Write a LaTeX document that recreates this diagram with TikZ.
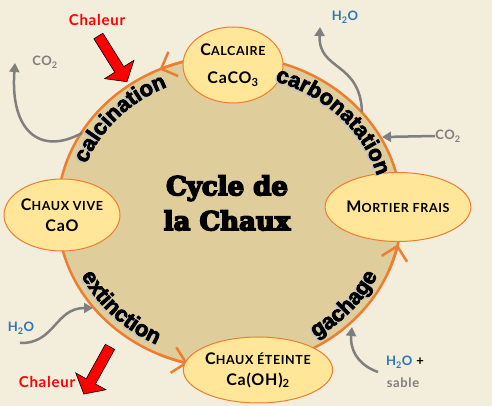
\documentclass[tikz,border=0pt]{standalone}
\usepackage{fontspec}
\usepackage{tikz}
\usetikzlibrary{shapes.geometric,shapes.arrows,arrows.meta,decorations.text}

\newfontfamily\lato{Lato}[LetterSpace=5]
\newfontfamily\procfont{Liberation Sans Bold}
\newfontfamily\titrefont{DejaVu Serif Bold}

\definecolor{fondC}{HTML}{F3EDDB}
\definecolor{tanC}{HTML}{DFCD9B}
\definecolor{orangeC}{HTML}{ED7D31}
\definecolor{jauneC}{HTML}{FFE699}
\definecolor{grisC}{HTML}{7F7F7F}
\definecolor{bleuC}{HTML}{2E75B6}
\definecolor{ombreC}{HTML}{BFC4CA}

% contour du texte (texte plus gras)
\newcommand\gras[1]{\special{pdf:literal direct 2 Tr #1 w}}
\newcommand\maigre{\special{pdf:literal direct 0 Tr 0.4 w}}
\newcommand\procstyle{\procfont\fontsize{22}{22}\selectfont\gras{0.7}}
\newcommand\petcap[2]{{\fontsize{16}{19}\selectfont#1}{\fontsize{12.5}{19}\selectfont#2}}
% texte courbe le long du cycle : texte, angle depart, angle fin, rayon x, rayon y
\newcommand\procarc[5]{%
  \path[decorate, decoration={text along path, text align=center, text color=ombreC, text={|\procstyle|#1}}]
    ([shift={(-1.4,-1.2)}]centre) ++(#2:#4 and #5) arc[start angle=#2, end angle=#3, x radius=#4, y radius=#5];
  \path[decorate, decoration={text along path, text align=center, text={|\procstyle|#1}}]
    (centre) ++(#2:#4 and #5) arc[start angle=#2, end angle=#3, x radius=#4, y radius=#5];
}

\begin{document}
\begin{tikzpicture}[x=1pt,y=1pt]
\tikzstyle{every node}+=[inner sep=0pt]
\tikzstyle{etape}=[ellipse, draw=orangeC, line width=1pt, fill=jauneC, align=center, font=\lato\bfseries\fontsize{16}{19}\selectfont]
\tikzstyle{cycle}=[orangeC, line width=2.5pt]
\tikzstyle{apport}=[grisC, line width=2.5pt, -{Triangle[length=9pt,width=10pt]}]
\tikzstyle{chaleur}=[single arrow, draw=black, line width=0.6pt, fill=red, inner xsep=0pt, inner ysep=5pt, minimum height=54pt, single arrow head extend=12pt, single arrow tip angle=100]
\tikzstyle{petit}=[font=\lato\bfseries\fontsize{13}{15}\selectfont]
\tikzstyle{chaleurtxt}=[text=red, font=\lato\bfseries\fontsize{15}{18}\selectfont]

\useasboundingbox (0,0) rectangle (492,406);
\fill[fondC] (0,0) rectangle (492,406);

% le cycle
\coordinate (centre) at (229.5,194);
\draw[cycle, fill=tanC] (centre) ellipse[x radius=172, y radius=156];

% apports et departs
\coordinate (co2a) at (82,273);
\coordinate (co2aFin) at (15,343);
\draw[apport] (co2a) .. controls (40,250) and (10,275) .. (co2aFin);
\coordinate (h2oa) at (362,294);
\coordinate (h2oaFin) at (320,379);
\draw[apport] (h2oa) .. controls (360,345) and (318,335) .. (h2oaFin);
\node[petit, text=grisC] (co2b) at (448,270) {CO\textsubscript{2}};
\coordinate (co2bFin) at (382,269);
\draw[apport] (co2b.west) -- (co2bFin);
\coordinate (h2ob) at (20,63);
\coordinate (h2obFin) at (93,98);
\draw[apport] (h2ob) .. controls (55,62) and (55,98) .. (h2obFin);
\coordinate (sableDep) at (378,34);
\coordinate (sableFin) at (352,79);
\draw[apport] (sableDep) .. controls (355,42) and (350,60) .. (sableFin);

% fleches du cycle
\draw[cycle, -{Straight Barb[length=13pt,width=26pt]}] (centre) ++(104:172 and 156) arc[start angle=104, end angle=114, x radius=172, y radius=156];
\draw[cycle, -{Straight Barb[length=13pt,width=26pt]}] (centre) ++(246:172 and 156) arc[start angle=246, end angle=256, x radius=172, y radius=156];
\draw[cycle, -{Straight Barb[length=13pt,width=26pt]}] (centre) ++(338:172 and 156) arc[start angle=338, end angle=348, x radius=172, y radius=156];

% etapes
\node[etape, minimum width=100pt, minimum height=76pt] (calcaire) at (233,341) {\petcap{C}{ALCAIRE}\\[9pt]CaCO\textsubscript{3}};
\node[etape, minimum width=111pt, minimum height=72pt] (vive) at (62,191) {\petcap{C}{HAUX VIVE}\\[2pt]CaO};
\node[etape, minimum width=113pt, minimum height=69pt] (mortier) at (398,199) {\petcap{M}{ORTIER FRAIS}};
\node[etape, minimum width=117pt, minimum height=66pt] (eteinte) at (258,36) {\petcap{C}{HAUX ÉTEINTE}\\[2pt]Ca(OH)\textsubscript{2}};

% noms des reactions
\procarc{calcination}{167}{107}{153}{137}
\procarc{carbonatation}{81}{6}{153}{137}
\procarc{extinction}{192}{256}{164}{148}
\procarc{gachage}{292}{345}{164}{148}

\node[font=\titrefont\fontsize{26}{35}\selectfont, align=center] (titre) at (227,203) {\gras{1.6}Cycle de\\\gras{1.6}la Chaux\maigre};

% chaleur
\node[chaleur, rotate=-58] (flecheHaut) at (111.5,349) {};
\node[chaleur, rotate=-119] (flecheBas) at (98,37.5) {};
\node[chaleurtxt] (chaleurHaut) at (97,386) {Chaleur};
\node[chaleurtxt] (chaleurBas) at (47,24) {Chaleur};

% etiquettes
\node[petit, text=grisC] (co2aTxt) at (45,344) {CO\textsubscript{2}};
\node[petit, text=bleuC] (h2oaTxt) at (345,389) {H\textsubscript{2}O};
\node[petit, text=bleuC] (h2obTxt) at (21,78) {H\textsubscript{2}O};
\node[petit] (h2ocTxt) at (405,44) {\textcolor{bleuC}{H\textsubscript{2}O} +};
\node[petit, text=grisC] (sableTxt) at (403,23) {sable};
\end{tikzpicture}
\end{document}
